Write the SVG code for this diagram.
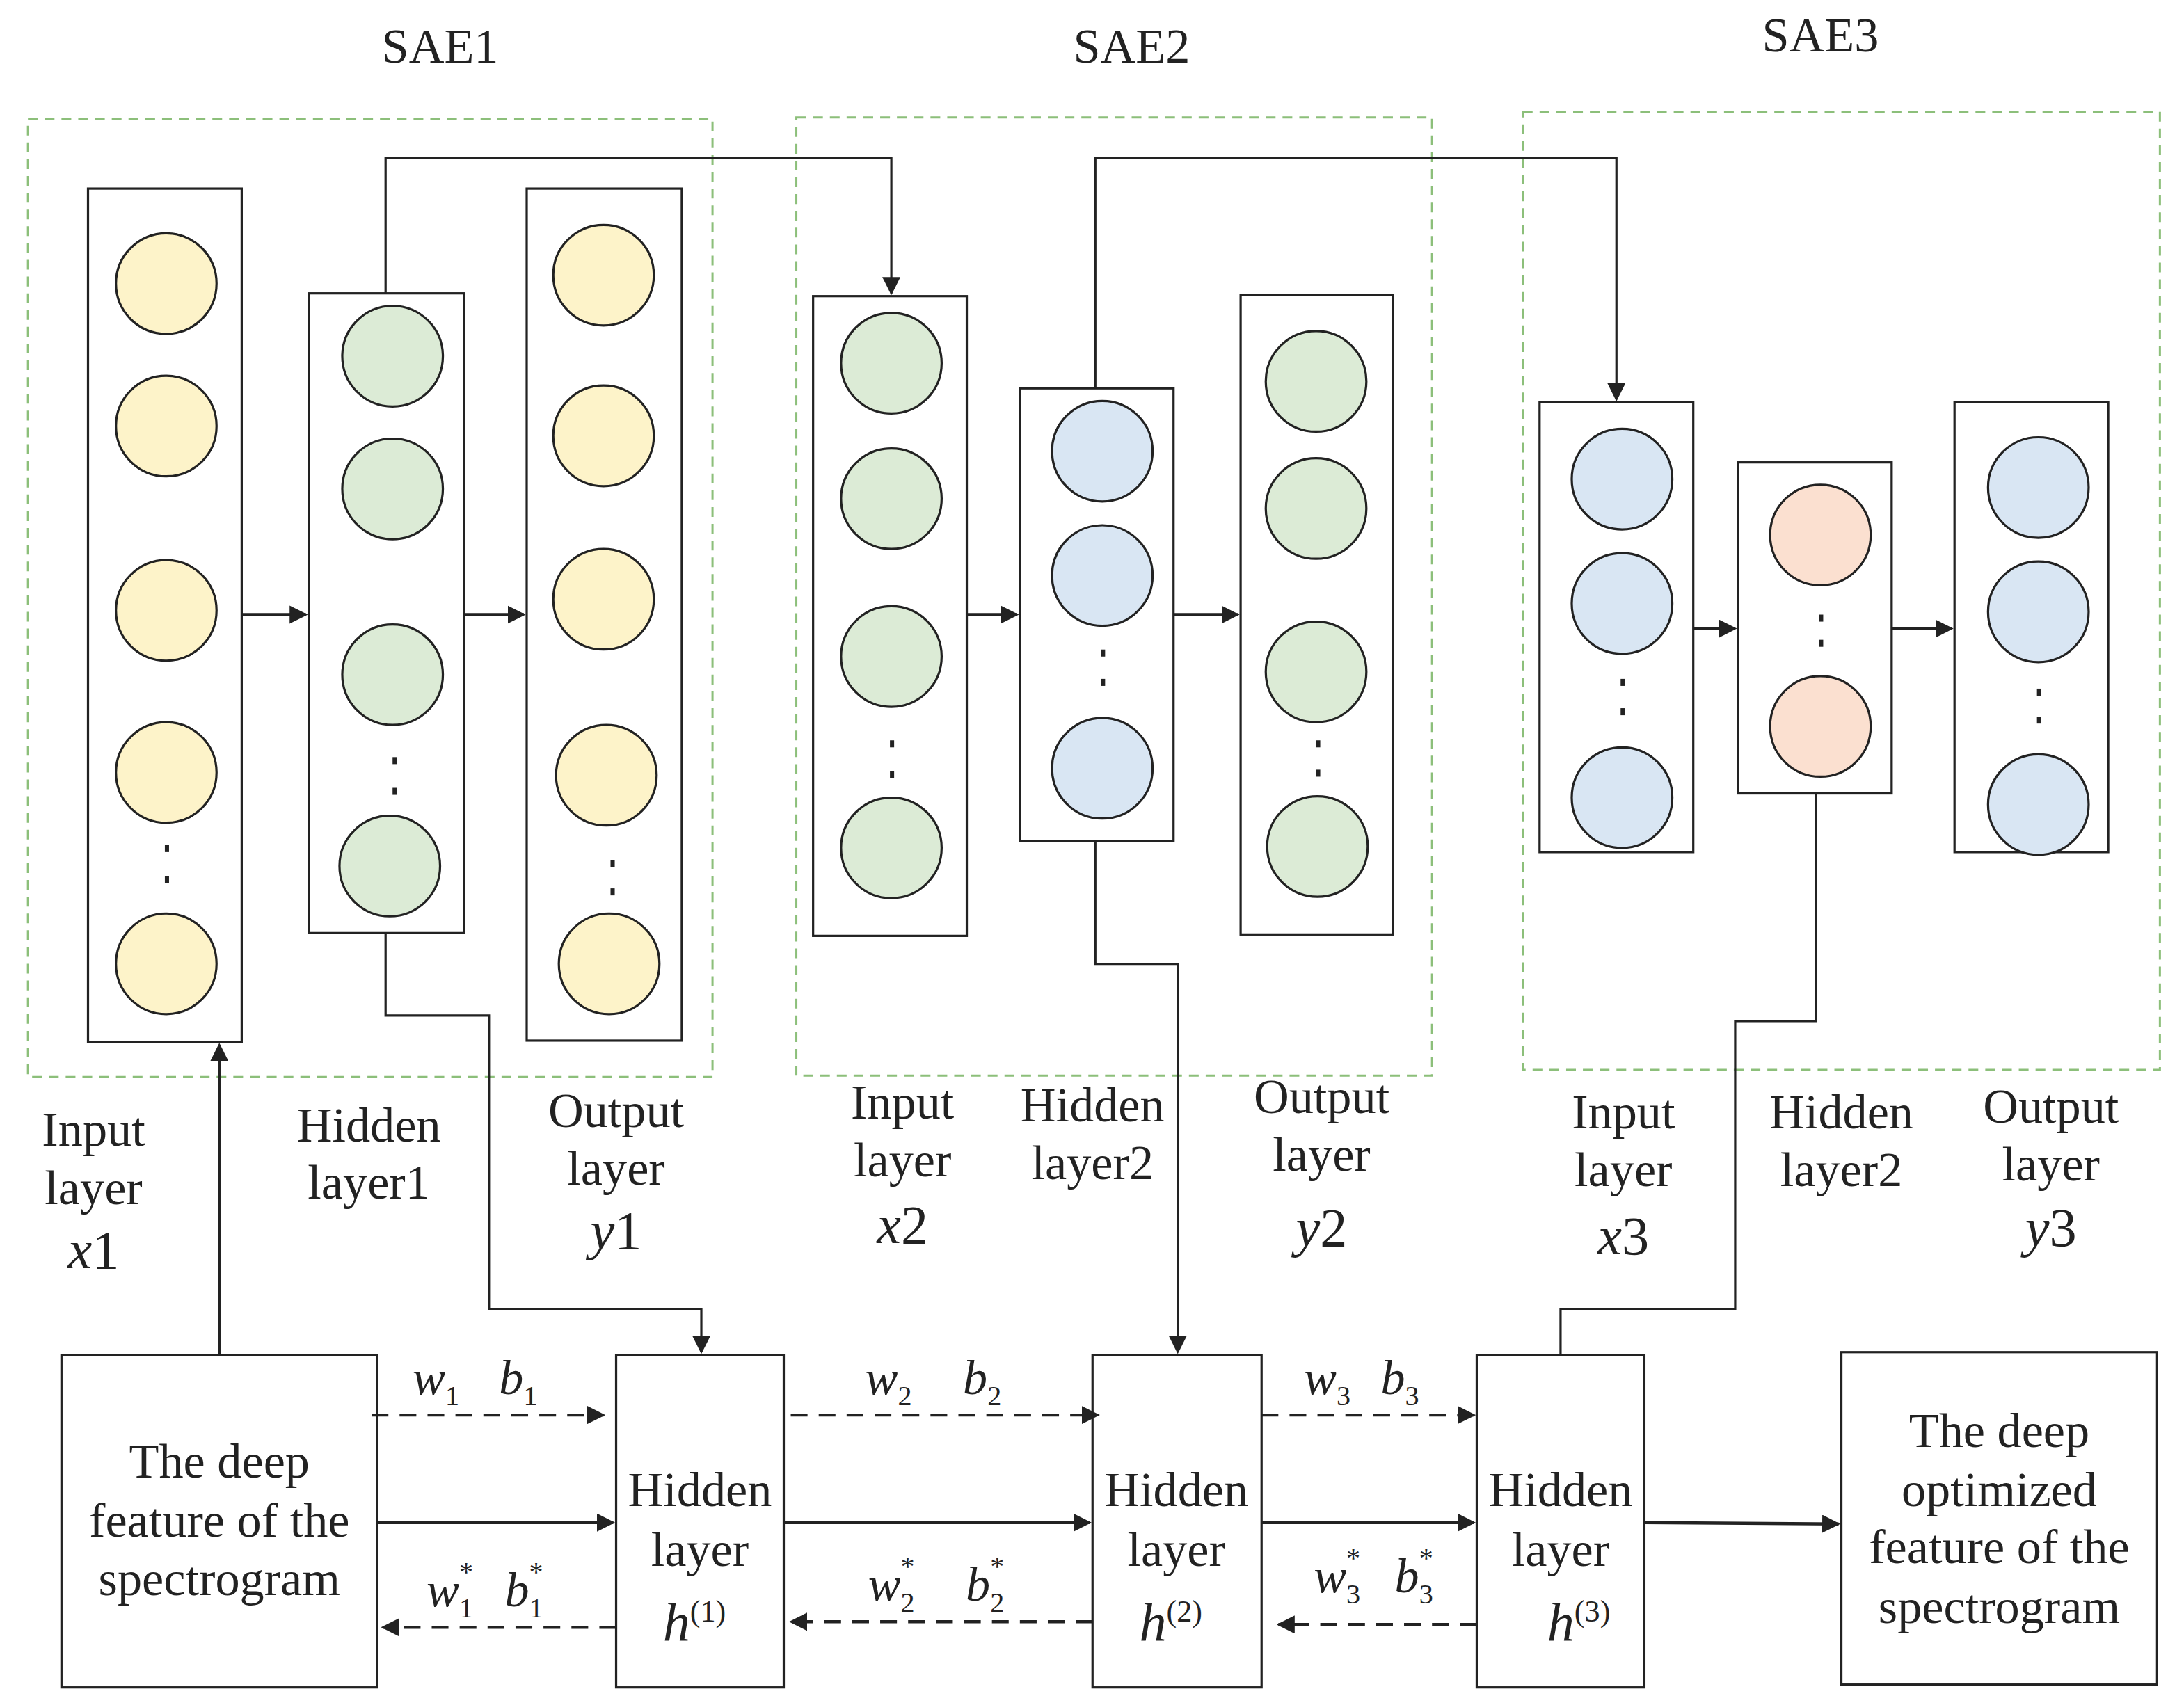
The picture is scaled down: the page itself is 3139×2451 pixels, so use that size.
<svg xmlns="http://www.w3.org/2000/svg" width="3139" height="2451" viewBox="0 0 3139 2451">
<style>
.sae{fill:none;stroke:#8cbf7a;stroke-width:1.5;stroke-dasharray:7,5}
.lay{fill:#fff;stroke:#222;stroke-width:1.6}
.y{fill:#fdf3c9;stroke:#222;stroke-width:1.6}
.g{fill:#dcebd6;stroke:#222;stroke-width:1.6}
.b{fill:#d9e6f3;stroke:#222;stroke-width:1.6}
.p{fill:#fbe0d0;stroke:#222;stroke-width:1.6}
.ln{fill:none;stroke:#222;stroke-width:1.6}
.th{fill:none;stroke:#222;stroke-width:2.2}
.da{fill:none;stroke:#222;stroke-width:2.2;stroke-dasharray:12,8}
text{font-family:"Liberation Serif",serif;font-size:35px;fill:#222;text-anchor:middle}
.i{font-style:italic}
.v{font-size:39px}
.dot{fill:#222}
</style>
<defs>
<marker id="a2" viewBox="0 0 10 10" refX="9" refY="5" markerWidth="13" markerHeight="13" orient="auto" markerUnits="userSpaceOnUse"><path d="M0,0L10,5L0,10z" fill="#222"/></marker>
</defs>
<g transform="scale(2.008)">
<g id="sae1"><rect class="sae" x="20" y="85" width="490" height="686"/><text x="315" y="45">SAE1</text></g>
<g id="sae2"><rect class="sae" x="570" y="84" width="455" height="686"/><text x="810" y="45">SAE2</text></g>
<g id="sae3"><rect class="sae" x="1090" y="80" width="456" height="686"/><text x="1303" y="37">SAE3</text></g>

<g id="in1"><rect class="lay" x="63" y="135" width="110" height="611"/>
<circle class="y" cx="119" cy="203" r="36"/><circle class="y" cx="119" cy="305" r="36"/><circle class="y" cx="119" cy="437" r="36"/><circle class="y" cx="119" cy="553" r="36"/><circle class="y" cx="119" cy="690" r="36"/>
<rect class="dot" x="118" y="605" width="3" height="5"/><rect class="dot" x="118" y="627" width="3" height="5"/></g>
<g id="hid1"><rect class="lay" x="221" y="210" width="111" height="458"/>
<circle class="g" cx="281" cy="255" r="36"/><circle class="g" cx="281" cy="350" r="36"/><circle class="g" cx="281" cy="483" r="36"/><circle class="g" cx="279" cy="620" r="36"/>
<rect class="dot" x="281" y="542" width="3" height="5"/><rect class="dot" x="281" y="564" width="3" height="5"/></g>
<g id="out1"><rect class="lay" x="377" y="135" width="111" height="610"/>
<circle class="y" cx="432" cy="197" r="36"/><circle class="y" cx="432" cy="312" r="36"/><circle class="y" cx="432" cy="429" r="36"/><circle class="y" cx="434" cy="555" r="36"/><circle class="y" cx="436" cy="690" r="36"/>
<rect class="dot" x="437" y="616" width="3" height="5"/><rect class="dot" x="437" y="636" width="3" height="5"/></g>

<g id="in2"><rect class="lay" x="582" y="212" width="110" height="458"/>
<circle class="g" cx="638" cy="260" r="36"/><circle class="g" cx="638" cy="357" r="36"/><circle class="g" cx="638" cy="470" r="36"/><circle class="g" cx="638" cy="607" r="36"/>
<rect class="dot" x="637" y="530" width="3" height="5"/><rect class="dot" x="637" y="552" width="3" height="5"/></g>
<g id="hid2"><rect class="lay" x="730" y="278" width="110" height="324"/>
<circle class="b" cx="789" cy="323" r="36"/><circle class="b" cx="789" cy="412" r="36"/><circle class="b" cx="789" cy="550" r="36"/>
<rect class="dot" x="788" y="465" width="3" height="5"/><rect class="dot" x="788" y="486" width="3" height="5"/></g>
<g id="out2"><rect class="lay" x="888" y="211" width="109" height="458"/>
<circle class="g" cx="942" cy="273" r="36"/><circle class="g" cx="942" cy="364" r="36"/><circle class="g" cx="942" cy="481" r="36"/><circle class="g" cx="943" cy="606" r="36"/>
<rect class="dot" x="942" y="530" width="3" height="5"/><rect class="dot" x="942" y="551" width="3" height="5"/></g>

<g id="in3"><rect class="lay" x="1102" y="288" width="110" height="322"/>
<circle class="b" cx="1161" cy="343" r="36"/><circle class="b" cx="1161" cy="432" r="36"/><circle class="b" cx="1161" cy="571" r="36"/>
<rect class="dot" x="1160" y="486" width="3" height="5"/><rect class="dot" x="1160" y="507" width="3" height="5"/></g>
<g id="hid3"><rect class="lay" x="1244" y="331" width="110" height="237"/>
<circle class="p" cx="1303" cy="383" r="36"/><circle class="p" cx="1303" cy="520" r="36"/>
<rect class="dot" x="1302" y="440" width="3" height="5"/><rect class="dot" x="1302" y="458" width="3" height="5"/></g>
<g id="out3"><rect class="lay" x="1399" y="288" width="110" height="322"/>
<circle class="b" cx="1459" cy="349" r="36"/><circle class="b" cx="1459" cy="438" r="36"/><circle class="b" cx="1459" cy="576" r="36"/>
<rect class="dot" x="1458" y="493" width="3" height="5"/><rect class="dot" x="1458" y="513" width="3" height="5"/></g>

<g id="labels">
<text x="67" y="820">Input</text><text x="67" y="862">layer</text><text x="67" y="908" class="i v">x<tspan font-style="normal">1</tspan></text>
<text x="264" y="817">Hidden</text><text x="264" y="858">layer1</text>
<text x="441" y="807">Output</text><text x="441" y="848">layer</text><text x="441" y="894" class="i v">y<tspan font-style="normal">1</tspan></text>
<text x="646" y="801">Input</text><text x="646" y="842">layer</text><text x="646" y="890" class="i v">x<tspan font-style="normal">2</tspan></text>
<text x="782" y="803">Hidden</text><text x="782" y="844">layer2</text>
<text x="946" y="797">Output</text><text x="946" y="838">layer</text><text x="946" y="892" class="i v">y<tspan font-style="normal">2</tspan></text>
<text x="1162" y="808">Input</text><text x="1162" y="849">layer</text><text x="1162" y="898" class="i v">x<tspan font-style="normal">3</tspan></text>
<text x="1318" y="808">Hidden</text><text x="1318" y="849">layer2</text>
<text x="1468" y="804">Output</text><text x="1468" y="845">layer</text><text x="1468" y="892" class="i v">y<tspan font-style="normal">3</tspan></text>
</g>

<g id="box1"><rect class="lay" x="44" y="970" width="226" height="238"/>
<text x="157" y="1058">The deep</text><text x="157" y="1100">feature of the</text><text x="157" y="1142">spectrogram</text></g>
<g id="h1"><rect class="lay" x="441" y="970" width="120" height="238"/>
<text x="501" y="1078">Hidden</text><text x="501" y="1121">layer</text><text x="497" y="1175" class="v"><tspan class="i">h</tspan><tspan font-size="22" dy="-14">(1)</tspan></text></g>
<g id="h2"><rect class="lay" x="782" y="970" width="121" height="238"/>
<text x="842" y="1078">Hidden</text><text x="842" y="1121">layer</text><text x="838" y="1175" class="v"><tspan class="i">h</tspan><tspan font-size="22" dy="-14">(2)</tspan></text></g>
<g id="h3"><rect class="lay" x="1057" y="970" width="120" height="238"/>
<text x="1117" y="1078">Hidden</text><text x="1117" y="1121">layer</text><text x="1130" y="1175" class="v"><tspan class="i">h</tspan><tspan font-size="22" dy="-14">(3)</tspan></text></g>
<g id="box2"><rect class="lay" x="1318" y="968" width="226" height="238"/>
<text x="1431" y="1036">The deep</text><text x="1431" y="1078">optimized</text><text x="1431" y="1119">feature of the</text><text x="1431" y="1162">spectrogram</text></g>

<g id="connectors">
<line class="th" x1="173" y1="440" x2="219" y2="440" marker-end="url(#a2)"/>
<line class="th" x1="332" y1="440" x2="375" y2="440" marker-end="url(#a2)"/>
<line class="th" x1="692" y1="440" x2="728" y2="440" marker-end="url(#a2)"/>
<line class="th" x1="840" y1="440" x2="886" y2="440" marker-end="url(#a2)"/>
<line class="th" x1="1212" y1="450" x2="1242" y2="450" marker-end="url(#a2)"/>
<line class="th" x1="1354" y1="450" x2="1397" y2="450" marker-end="url(#a2)"/>
<polyline class="ln" points="276,210 276,113 638,113 638,210" marker-end="url(#a2)"/>
<polyline class="ln" points="784,278 784,113 1157,113 1157,286" marker-end="url(#a2)"/>
<polyline class="ln" points="276,668 276,727 350,727 350,937 502,937 502,968" marker-end="url(#a2)"/>
<polyline class="ln" points="784,602 784,690 843,690 843,968" marker-end="url(#a2)"/>
<polyline class="ln" points="1300,568 1300,731 1242,731 1242,937 1117,937 1117,970"/>
<line class="th" x1="157" y1="970" x2="157" y2="748" marker-end="url(#a2)"/>
<line class="da" x1="266" y1="1013" x2="432" y2="1013" marker-end="url(#a2)"/>
<line class="da" x1="566" y1="1013" x2="786" y2="1013" marker-end="url(#a2)"/>
<line class="da" x1="903" y1="1013" x2="1055" y2="1013" marker-end="url(#a2)"/>
<line class="th" x1="270" y1="1090" x2="439" y2="1090" marker-end="url(#a2)"/>
<line class="th" x1="561" y1="1090" x2="780" y2="1090" marker-end="url(#a2)"/>
<line class="th" x1="903" y1="1090" x2="1055" y2="1090" marker-end="url(#a2)"/>
<line class="th" x1="1177" y1="1090" x2="1316" y2="1091" marker-end="url(#a2)"/>
<line class="da" x1="441" y1="1165" x2="274" y2="1165" marker-end="url(#a2)"/>
<line class="da" x1="782" y1="1161" x2="566" y2="1161" marker-end="url(#a2)"/>
<line class="da" x1="1057" y1="1163" x2="915" y2="1163" marker-end="url(#a2)"/>
</g>
<g id="weights">
<text x="312" y="998" class="i">w<tspan font-size="20" dy="8" font-style="normal">1</tspan></text>
<text x="371" y="998" class="i">b<tspan font-size="20" dy="8" font-style="normal">1</tspan></text>
<text x="636" y="998" class="i">w<tspan font-size="20" dy="8" font-style="normal">2</tspan></text>
<text x="703" y="998" class="i">b<tspan font-size="20" dy="8" font-style="normal">2</tspan></text>
<text x="950" y="998" class="i">w<tspan font-size="20" dy="8" font-style="normal">3</tspan></text>
<text x="1002" y="998" class="i">b<tspan font-size="20" dy="8" font-style="normal">3</tspan></text>
<text x="322" y="1150" class="i">w<tspan font-size="20" dy="8" font-style="normal">1</tspan><tspan font-size="20" dx="-10" dy="-26" font-style="normal">*</tspan></text>
<text x="375" y="1150" class="i">b<tspan font-size="20" dy="8" font-style="normal">1</tspan><tspan font-size="20" dx="-10" dy="-26" font-style="normal">*</tspan></text>
<text x="638" y="1146" class="i">w<tspan font-size="20" dy="8" font-style="normal">2</tspan><tspan font-size="20" dx="-10" dy="-26" font-style="normal">*</tspan></text>
<text x="705" y="1146" class="i">b<tspan font-size="20" dy="8" font-style="normal">2</tspan><tspan font-size="20" dx="-10" dy="-26" font-style="normal">*</tspan></text>
<text x="957" y="1140" class="i">w<tspan font-size="20" dy="8" font-style="normal">3</tspan><tspan font-size="20" dx="-10" dy="-26" font-style="normal">*</tspan></text>
<text x="1012" y="1140" class="i">b<tspan font-size="20" dy="8" font-style="normal">3</tspan><tspan font-size="20" dx="-10" dy="-26" font-style="normal">*</tspan></text>
</g>
</g>
</svg>
